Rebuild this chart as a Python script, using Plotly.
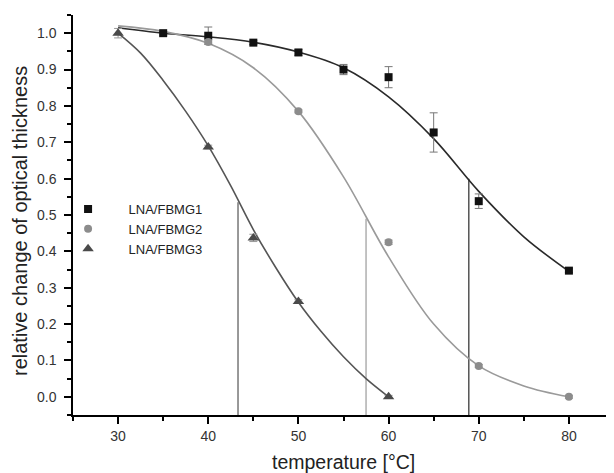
import plotly.graph_objects as go

# ---- measured data points ----
temp1 = [35, 40, 45, 50, 55, 60, 65, 70, 80]
val1 = [1.0, 0.993, 0.974, 0.947, 0.900, 0.879, 0.727, 0.538, 0.347]
err1 = [0.005, 0.024, 0.005, 0.008, 0.014, 0.029, 0.054, 0.02, 0.005]

temp2 = [40, 50, 60, 70, 80]
val2 = [0.976, 0.785, 0.425, 0.085, 0.0]
err2 = [0.004, 0.004, 0.006, 0.004, 0.004]

temp3 = [30, 40, 45, 50, 60]
val3 = [1.0, 0.687, 0.437, 0.262, 0.0]
err3 = [0.013, 0.005, 0.01, 0.005, 0.004]

# ---- fitted curves ----
fit1_x = [30, 35, 40, 45, 50, 55, 60, 65, 70, 75, 80]
fit1_y = [1.015, 1.0, 0.99, 0.975, 0.948, 0.905, 0.825, 0.71, 0.565, 0.44, 0.345]

fit2_x = [30, 35, 40, 45, 50, 55, 60, 65, 70, 75, 80]
fit2_y = [1.02, 1.005, 0.972, 0.905, 0.785, 0.605, 0.385, 0.2, 0.085, 0.03, 0.0]

fit3_x = [30, 32.5, 35, 37.5, 40, 42.5, 45, 47.5, 50, 52.5, 55, 57.5, 60]
fit3_y = [1.0, 0.945, 0.87, 0.785, 0.69, 0.58, 0.46, 0.355, 0.26, 0.18, 0.11, 0.05, 0.0]

# ---- midpoint (drop) lines ----
mid_x = [68.9, 57.5, 43.3]
mid_y = [0.60, 0.49, 0.535]

names = ["LNA/FBMG1", "LNA/FBMG2", "LNA/FBMG3"]
x_ticks = [30, 40, 50, 60, 70, 80]
y_ticks = [0.0, 0.1, 0.2, 0.3, 0.4, 0.5, 0.6, 0.7, 0.8, 0.9, 1.0]

c1, c2, c3 = "#111111", "#8c8c8c", "#4a4a4a"
lc1, lc2, lc3 = "#2a2a2a", "#9a9a9a", "#555555"
y_bottom = -0.05

fig = go.Figure()

# drop lines
for mx, my, col in zip(mid_x, mid_y, [lc1, lc2, lc3]):
    fig.add_trace(go.Scatter(x=[mx, mx], y=[y_bottom, my], mode="lines",
                             line=dict(color=col, width=1.2), showlegend=False,
                             hoverinfo="skip"))

# fit curves
for fx, fy, col in [(fit1_x, fit1_y, lc1), (fit2_x, fit2_y, lc2), (fit3_x, fit3_y, lc3)]:
    fig.add_trace(go.Scatter(x=fx, y=fy, mode="lines",
                             line=dict(color=col, width=1.6, shape="spline", smoothing=1.0),
                             showlegend=False, hoverinfo="skip"))

# data points
fig.add_trace(go.Scatter(x=temp1, y=val1, mode="markers", name=names[0],
                         marker=dict(symbol="square", size=8, color=c1),
                         error_y=dict(type="data", array=err1, color="#777777",
                                      thickness=1, width=4)))
fig.add_trace(go.Scatter(x=temp2, y=val2, mode="markers", name=names[1],
                         marker=dict(symbol="circle", size=8, color=c2),
                         error_y=dict(type="data", array=err2, color="#999999",
                                      thickness=1, width=4)))
fig.add_trace(go.Scatter(x=temp3, y=val3, mode="markers", name=names[2],
                         marker=dict(symbol="triangle-up", size=10, color=c3),
                         error_y=dict(type="data", array=err3, color="#999999",
                                      thickness=1, width=4)))

font_family = "Liberation Sans, Arial, sans-serif"
# page body has an 8px margin, so the figure is sized/offset to compensate
fig.update_layout(
    width=606, height=465,
    margin=dict(l=65, r=0, t=7, b=58, autoexpand=False),
    paper_bgcolor="white", plot_bgcolor="white",
    font=dict(family=font_family, color="#222222"),
    showlegend=True,
    legend=dict(x=-0.047, y=0.5525, xanchor="left", yanchor="top",
                bgcolor="rgba(0,0,0,0)", font=dict(size=13, color="#222222"),
                itemwidth=71, tracegroupgap=0),
    xaxis=dict(range=[25, 85], tickvals=x_ticks, ticks="outside", ticklen=7,
               tickwidth=1.5, tickcolor="black", showline=True, linecolor="black",
               linewidth=1.5, showgrid=False, zeroline=False, automargin=False,
               minor=dict(ticks="outside", ticklen=4, tickwidth=1.5, tickcolor="black",
                          tick0=25, dtick=10, showgrid=False),
               tickfont=dict(size=14, color="#333333")),
    yaxis=dict(range=[y_bottom, 1.05], tickvals=y_ticks, tickformat=".1f",
               ticks="outside", ticklen=7, tickwidth=1.5, tickcolor="black",
               showline=True, linecolor="black", linewidth=1.5, showgrid=False,
               zeroline=False, ticklabelstandoff=5, automargin=False,
               minor=dict(ticks="outside", ticklen=4, tickwidth=1.5, tickcolor="black",
                          tick0=0.05, dtick=0.1, showgrid=False),
               tickfont=dict(size=14, color="#333333")),
    annotations=[
        dict(text="temperature [°C]", xref="paper", yref="paper", x=0.5, y=-0.1175,
             xanchor="center", yanchor="middle", showarrow=False,
             font=dict(size=19.5, color="#222222")),
        dict(text="relative change of optical thickness", xref="paper", yref="paper",
             x=-0.098, y=0.485, xanchor="center", yanchor="middle", textangle=-90,
             showarrow=False, font=dict(size=20, color="#222222")),
    ],
)

fig.write_html("out.html")
